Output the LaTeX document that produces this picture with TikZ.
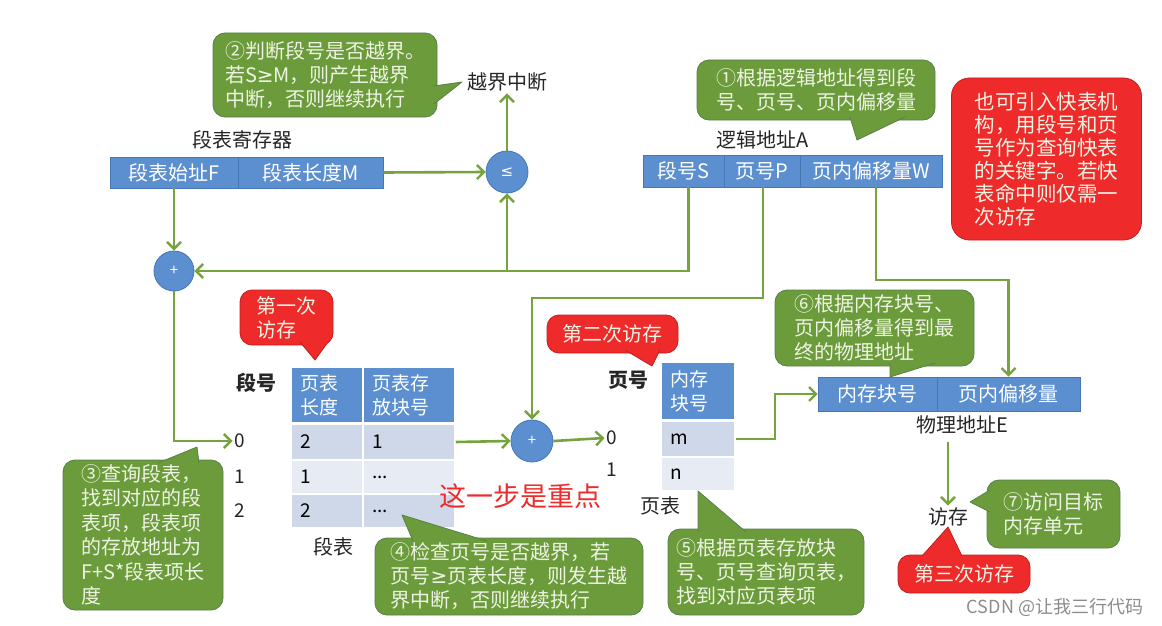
\documentclass[tikz,border=0pt]{standalone}
\usepackage{fontspec}
\setmainfont{Noto Sans CJK SC}
\newfontfamily\symfont{DejaVu Sans}
\usetikzlibrary{arrows.meta}
\definecolor{bblue}{HTML}{5B8FD0}
\definecolor{bbord}{HTML}{4576B5}
\definecolor{lgreen}{HTML}{77A33F}
\definecolor{cgreen}{HTML}{6B9B3A}
\definecolor{cgbord}{HTML}{58804A}
\definecolor{cred}{HTML}{EE2A2A}
\definecolor{crbord}{HTML}{C41E1E}
\definecolor{ctext}{HTML}{EEF4E4}
\definecolor{rowd}{HTML}{CFD8E9}
\definecolor{rowl}{HTML}{E7EBF4}
\definecolor{wm}{HTML}{8C8C8C}
\newcommand\tailshape[5]{%
  \fill[#1] #3 -- #4 -- #5 -- cycle;
  \draw[#2, line width=0.8pt, line join=round] #3 -- #4 -- #5;}
\newcommand\gex{{\symfont ≥}}
\tikzset{
  x=1pt, y=-1pt,
  flow/.style={draw=lgreen, line width=2.6pt,
    -{Straight Barb[length=7pt,width=14pt,line width=2.4pt]}},
  f20/.style={font=\fontsize{20}{24}\selectfont},
  cell/.style={fill=bblue, draw=bbord, line width=0.6pt, text=white,
    inner sep=0pt, f20},
  tcell/.style={draw=white, line width=1.5pt, inner xsep=9pt, inner ysep=0pt,
    align=left, font=\fontsize{19}{24}\selectfont, anchor=center},
  hcell/.style={tcell, fill=bblue, text=white},
  circ/.style={circle, fill=bblue, draw=bbord, line width=0.8pt, text=white,
    minimum size=42pt, inner sep=0pt, font=\fontsize{15}{15}\selectfont},
  lbl/.style={inner sep=2pt, f20, text=black!85},
  callg/.style={fill=cgreen, draw=cgbord, line width=0.8pt, rounded corners=12pt,
    text=ctext, align=left, inner sep=0pt, font=\fontsize{20}{24}\selectfont},
  callr/.style={callg, fill=cred, draw=crbord},
}
\begin{document}
\begin{tikzpicture}
\fill[white] (0,0) rectangle (1162,626);
\useasboundingbox (0,0) rectangle (1162,626);

% ---- segment table register
\node[cell, minimum width=128pt, minimum height=31pt] (regF) at (174,172.5) {段表始址F};
\node[cell, minimum width=145pt, minimum height=31pt] (regM) at (310.5,172.5) {段表长度M};
\node[lbl] (regL) at (242,140) {段表寄存器};
\node[circ] (le) at (507,172) {\symfont ≤};
\node[lbl] (brk) at (507,82) {越界中断};

% ---- logical address
\node[cell, minimum width=81pt, minimum height=32pt] (lS) at (683.5,171) {段号S};
\node[cell, minimum width=76pt, minimum height=32pt] (lP) at (762,171) {页号P};
\node[cell, minimum width=142pt, minimum height=32pt] (lW) at (871,171) {页内偏移量W};
\node[lbl] (lA) at (763,140) {逻辑地址A};

% ---- adders
\node[circ, minimum size=40pt] (pa) at (174,271) {+};
\node[circ] (pb) at (532,441) {+};

% ---- segment table
\node[hcell, minimum width=72pt, minimum height=56pt, text width=54pt] (h1) at (327,395) {页表\\长度};
\node[hcell, minimum width=92pt, minimum height=56pt, text width=74pt] (h2) at (409,395) {页表存\\放块号};
\node[tcell, fill=rowd, minimum width=72pt, minimum height=35pt, text width=54pt] (r0a) at (327,442) {2};
\node[tcell, fill=rowd, minimum width=92pt, minimum height=35pt, text width=74pt] (r0b) at (409,442) {1};
\node[tcell, fill=rowl, minimum width=72pt, minimum height=34pt, text width=54pt] (r1a) at (327,477) {1};
\node[tcell, fill=rowl, minimum width=92pt, minimum height=34pt, text width=74pt] (r1b) at (409,477) {...};
\node[tcell, fill=rowd, minimum width=72pt, minimum height=34pt, text width=54pt] (r2a) at (327,511) {2};
\node[tcell, fill=rowd, minimum width=92pt, minimum height=34pt, text width=74pt] (r2b) at (409,511) {...};
\node[lbl, font=\fontsize{20}{24}\selectfont\bfseries] (sh) at (256,383) {段号};
\node[lbl, font=\fontsize{19}{24}\selectfont] (s0) at (240,441) {0};
\node[lbl, font=\fontsize{19}{24}\selectfont] (s1) at (240,477) {1};
\node[lbl, font=\fontsize{19}{24}\selectfont] (s2) at (240,511) {2};
\node[lbl] (st) at (333,547) {段表};

% ---- page table
\node[hcell, minimum width=74pt, minimum height=58pt, text width=56pt] (ph) at (698,391) {内存\\块号};
\node[tcell, fill=rowd, minimum width=74pt, minimum height=35pt, text width=56pt] (pm) at (698,439) {m};
\node[tcell, fill=rowl, minimum width=74pt, minimum height=33pt, text width=56pt] (pn) at (698,474) {n};
\node[lbl, font=\fontsize{20}{24}\selectfont\bfseries] (phl) at (628,380) {页号};
\node[lbl, font=\fontsize{19}{24}\selectfont] (g0) at (612,438) {0};
\node[lbl, font=\fontsize{19}{24}\selectfont] (g1) at (612,470) {1};
\node[lbl] (pt) at (660,506) {页表};

% ---- physical address
\node[cell, minimum width=119pt, minimum height=34pt] (pB) at (877.5,394) {内存块号};
\node[cell, minimum width=143pt, minimum height=34pt] (pO) at (1008.5,394) {页内偏移量};
\node[lbl] (peL) at (962,425) {物理地址E};
\node[lbl] (acc) at (948,517) {访存};

% ---- connectors
\draw[flow] (regM.east) -- (le.west);
\draw[flow] (le.north) -- (brk.south);
\draw[flow] (regF.south) -- (pa.north);
\draw[flow] ([xshift=5pt]lS.south) |- (pa.east);
\coordinate (j1) at (507,271);
\draw[flow] (j1) -- (le.south);
\draw[flow] (pa.south) |- (s0.west);
\draw[flow] (r0b.east) -- (pb.west);
\draw[flow] (pb.east) -- (g0.west);
\coordinate (cP) at (532,298);
\draw[flow] ([xshift=1pt]lP.south) |- (cP) -- (pb.north);
\coordinate (cW) at (1008.5,280);
\draw[flow] ([xshift=5pt]lW.south) |- (cW) -- (pO.north);
\coordinate (cm) at (775,439);
\draw[flow] (pm.east) -- (cm) |- (pB.west);
\draw[flow] ([yshift=-6pt]acc.north |- peL.south) -- (acc.north);

% ---- emphasis text
\node[text=cred, inner sep=0pt, font=\fontsize{27}{30}\selectfont] (key) at (520,496) {这一步是重点};

% ---- callouts
\node[callg, minimum width=224pt, minimum height=84pt] (c2) at (325,75)
  {②判断段号是否越界。\\若S\gex M，则产生越界\\中断，否则继续执行};
\tailshape{cgreen}{cgbord}{(434,86)}{(462,82)}{(434,104)}

\node[callg, minimum width=238pt, minimum height=60pt] (c1) at (816,90)
  {①根据逻辑地址得到段\\号、页号、页内偏移量};
\tailshape{cgreen}{cgbord}{(850,117)}{(857,140)}{(905,117)}

\node[callr, rounded corners=18pt, minimum width=190pt, minimum height=162pt,
  font=\fontsize{20.5}{23}\selectfont] (cq) at (1046.5,159)
  {也可引入快表机\\构，用段号和页\\号作为查询快表\\的关键字。若快\\表命中则仅需一\\次访存};

\node[callr, minimum width=93pt, minimum height=55pt] (r1) at (286.5,317.5)
  {第一次\\访存};
\tailshape{cred}{crbord}{(300,342)}{(315,360)}{(328,342)}

\node[callr, minimum width=131pt, minimum height=38pt] (r2) at (612.5,334)
  {第二次访存};
\tailshape{cred}{crbord}{(625,350)}{(652,366)}{(660,350)}

\node[callg, minimum width=199pt, minimum height=76pt] (c6) at (874.5,328)
  {⑥根据内存块号、\\页内偏移量得到最\\终的物理地址};
\tailshape{cgreen}{cgbord}{(890,363)}{(890,377)}{(935,363)}

\node[callg, minimum width=160pt, minimum height=150pt,
  font=\fontsize{20}{24.5}\selectfont] (c3) at (143,535)
  {③查询段表，\\找到对应的段\\表项，段表项\\的存放地址为\\F+S*段表项长\\度};
\tailshape{cgreen}{cgbord}{(158,463)}{(197,447)}{(199,463)}

\node[callg, minimum width=268pt, minimum height=77pt] (c4) at (509,576.5)
  {④检查页号是否越界，若\\页号\gex 页表长度，则发生越\\界中断，否则继续执行};
\tailshape{cgreen}{cgbord}{(413,541)}{(402,515)}{(487,541)}

\node[callg, minimum width=196pt, minimum height=86pt] (c5) at (766,572)
  {⑤根据页表存放块\\号、页号查询页表，\\找到对应页表项};
\tailshape{cgreen}{cgbord}{(698,532)}{(698,491)}{(746,532)}

\node[callg, minimum width=133pt, minimum height=68pt] (c7) at (1053.5,514)
  {⑦访问目标\\内存单元};
\tailshape{cgreen}{cgbord}{(990,490)}{(970,502)}{(990,512)}

\node[callr, minimum width=132pt, minimum height=38pt] (r3) at (964,574)
  {第三次访存};
\tailshape{cred}{crbord}{(922,556)}{(948,527)}{(962,556)}

% ---- watermark
\node[text=wm, inner sep=0pt, font=\fontsize{18}{20}\selectfont] (wmk) at (1055,607) {CSDN @让我三行代码};
\end{tikzpicture}
\end{document}
